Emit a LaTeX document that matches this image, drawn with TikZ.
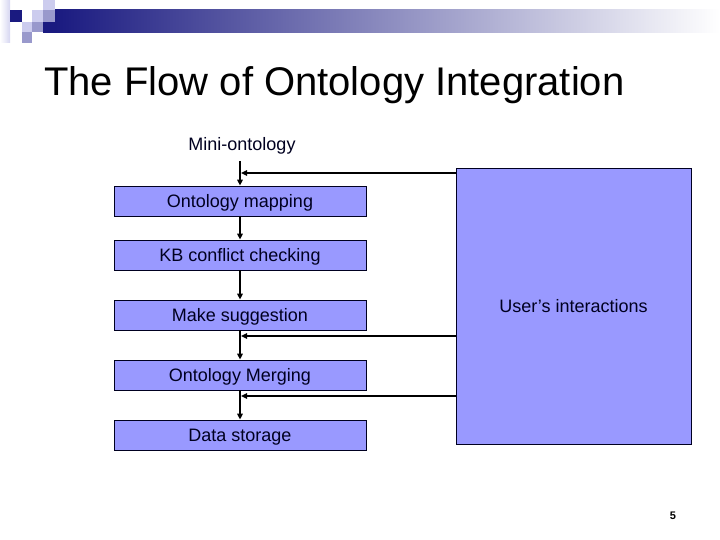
\documentclass[tikz,border=0pt]{standalone}
\usepackage{fontspec}
\setmainfont{Liberation Sans}
\usetikzlibrary{arrows.meta}
\definecolor{boxfill}{HTML}{9999FF}
\definecolor{navy}{HTML}{1A1A80}
\definecolor{lavlight}{HTML}{CCCCEE}
\definecolor{lavmid}{HTML}{9999CC}
\definecolor{txt}{HTML}{000020}
\tikzset{
  stepbox/.style={draw=txt, line width=0.8pt, fill=boxfill, minimum width=252pt, minimum height=30pt, inner sep=0pt, text height=12.9pt, text depth=0pt, font=\fontsize{18}{20}\selectfont, text=txt},
  arr/.style={line width=1.8pt, -{Triangle[length=6pt,width=5.5pt]}},
}
\begin{document}
\begin{tikzpicture}[x=1pt,y=-1pt]
\useasboundingbox (0,0) rectangle (720,540);
% header decoration
\shade[left color=white, right color=lavlight!80] (0,0) rectangle (10,43);
\fill[navy] (10,10) rectangle (22,22);
\fill[lavlight] (32,10) rectangle (43,22);
\fill[lavlight] (43,0) rectangle (55,10);
\fill[lavmid] (43,10) rectangle (55,22);
\fill[lavlight] (22,22) rectangle (32,32);
\fill[lavmid] (32,22) rectangle (43,32);
\fill[lavmid] (22,32) rectangle (32,43);
\fill[navy] (43,22) rectangle (55,33);
\shade[left color=navy, middle color={rgb,255:red,176;green,176;blue,196}, right color=white] (55,10) rectangle (720,33);
% title
\node[anchor=base west, inner sep=0pt, font=\fontsize{40}{44}\selectfont] (title) at (44,96) {The Flow of Ontology Integration};
% nodes
\node[font=\fontsize{18}{20}\selectfont, text=txt, inner sep=2pt] (mini) at (242,146) {Mini-ontology};
\node[stepbox] (map) at (240,201) {Ontology mapping};
\node[stepbox] (kb) at (240,255) {KB conflict checking};
\node[stepbox] (sug) at (240,315) {Make suggestion};
\node[stepbox] (mrg) at (240,375) {Ontology Merging};
\node[stepbox] (dat) at (240,435) {Data storage};
\node[draw=txt, line width=0.8pt, fill=boxfill, minimum width=235pt, minimum height=276pt, inner sep=0pt, text height=12.9pt, text depth=0pt, font=\fontsize{18}{20}\selectfont, text=txt] (user) at (573.5,306) {User’s interactions};
% vertical connectors
\coordinate (m0) at (240,161);
\draw[arr] (m0) -- (map.north);
\draw[arr] (map.south) -- (kb.north);
\draw[arr] (kb.south) -- (sug.north);
\draw[arr] (sug.south) -- (mrg.north);
\draw[arr] (mrg.south) -- (dat.north);
% feedback connectors
\coordinate (f1) at (241,173);
\coordinate (f2) at (241,336);
\coordinate (f3) at (241,396);
\draw[arr] (user.west |- f1) -- (f1);
\draw[arr] (user.west |- f2) -- (f2);
\draw[arr] (user.west |- f3) -- (f3);
% page number
\node[font=\fontsize{11}{13}\selectfont\bfseries, inner sep=0pt] (pg) at (673,516) {5};
\end{tikzpicture}
\end{document}
